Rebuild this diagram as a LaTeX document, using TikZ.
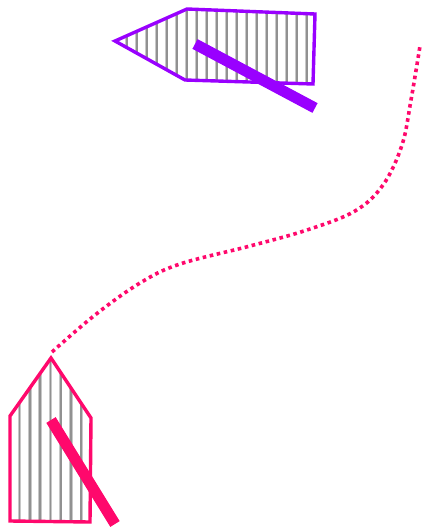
\documentclass[tikz,border=0pt]{standalone}
\definecolor{boatpurple}{RGB}{153,0,255}
\definecolor{boatpink}{RGB}{255,8,108}
\definecolor{stripegray}{RGB}{145,145,145}
\definecolor{stripelight}{RGB}{200,200,200}
\tikzset{
  hull/.style={line width=3.4pt, line join=miter},
  bar/.style={line width=11pt, line cap=butt},
  stripeout/.style={stripelight, line width=3.4pt},
  stripe/.style={stripegray, line width=1.8pt},
  trail/.style={boatpink, line width=3.6pt, dash pattern=on 3.6pt off 3.6pt}
}
\begin{document}
\begin{tikzpicture}[x=1pt,y=-1pt]
\useasboundingbox (0,0) rectangle (424,527);
% purple boat
\begin{scope}
  \clip (115,41) -- (187,9) -- (315,14) -- (313,84) -- (185,80) -- cycle;
  \foreach \xx in {0,...,20} {
    \draw[stripeout] (106.7+10*\xx,0) -- (106.7+10*\xx,100);
    \draw[stripe] (106.7+10*\xx,0) -- (106.7+10*\xx,100);
  }
\end{scope}
\draw[hull, boatpurple] (115,41) -- (187,9) -- (315,14) -- (313,84) -- (185,80) -- cycle;
\draw[bar, boatpurple] (195,44) -- (315,108);
% trail
\draw[trail] plot[smooth, tension=0.6] coordinates {(52,352) (95,315) (140,283) (180,264) (250,246) (307,230) (355,211) (383,185) (402,145) (411,100) (420,46)};
% pink boat
\begin{scope}
  \clip (51,358) -- (10,416) -- (10,521) -- (90,522) -- (91,418) -- cycle;
  \foreach \xx in {0,...,9} {
    \draw[stripeout] (9.2+10.3*\xx,350) -- (9.2+10.3*\xx,527);
    \draw[stripe] (9.2+10.3*\xx,350) -- (9.2+10.3*\xx,527);
  }
\end{scope}
\draw[hull, boatpink] (51,358) -- (10,416) -- (10,521) -- (90,522) -- (91,418) -- cycle;
\draw[bar, boatpink] (51,420) -- (115,524);
\end{tikzpicture}
\end{document}
